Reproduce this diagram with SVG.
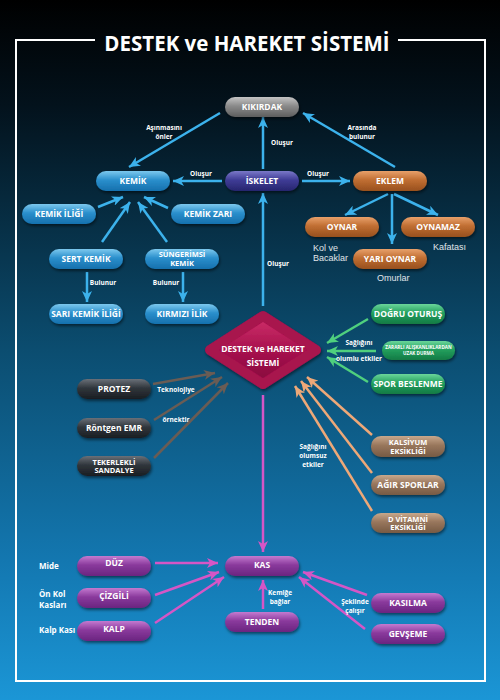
<svg xmlns="http://www.w3.org/2000/svg" width="500" height="700" viewBox="0 0 500 700">
<defs>
<linearGradient id="bg" x1="0" y1="0" x2="0" y2="1">
<stop offset="0" stop-color="#000000"/>
<stop offset="0.15" stop-color="#03121c"/>
<stop offset="0.5" stop-color="#0b4d70"/>
<stop offset="0.8" stop-color="#1377b0"/>
<stop offset="1" stop-color="#1b96d6"/>
</linearGradient>
<linearGradient id="gBlue" x1="0" y1="0" x2="0" y2="1"><stop offset="0" stop-color="#7cc8ee"/><stop offset="0.45" stop-color="#2a8fcc"/><stop offset="1" stop-color="#1670ad"/></linearGradient>
<linearGradient id="gGray" x1="0" y1="0" x2="0" y2="1"><stop offset="0" stop-color="#c4c4c4"/><stop offset="0.45" stop-color="#8a8a8a"/><stop offset="1" stop-color="#5e5e5e"/></linearGradient>
<linearGradient id="gIndigo" x1="0" y1="0" x2="0" y2="1"><stop offset="0" stop-color="#7a78c8"/><stop offset="0.45" stop-color="#3f3c96"/><stop offset="1" stop-color="#27256e"/></linearGradient>
<linearGradient id="gOrange" x1="0" y1="0" x2="0" y2="1"><stop offset="0" stop-color="#e8a06a"/><stop offset="0.45" stop-color="#c06e32"/><stop offset="1" stop-color="#98501e"/></linearGradient>
<linearGradient id="gGreen" x1="0" y1="0" x2="0" y2="1"><stop offset="0" stop-color="#6ad69a"/><stop offset="0.45" stop-color="#23a05e"/><stop offset="1" stop-color="#137a44"/></linearGradient>
<linearGradient id="gTan" x1="0" y1="0" x2="0" y2="1"><stop offset="0" stop-color="#c8a88c"/><stop offset="0.45" stop-color="#98765c"/><stop offset="1" stop-color="#765a44"/></linearGradient>
<linearGradient id="gDark" x1="0" y1="0" x2="0" y2="1"><stop offset="0" stop-color="#6a7078"/><stop offset="0.45" stop-color="#30363c"/><stop offset="1" stop-color="#1a1e22"/></linearGradient>
<linearGradient id="gPurple" x1="0" y1="0" x2="0" y2="1"><stop offset="0" stop-color="#c47ad0"/><stop offset="0.45" stop-color="#8a3a9c"/><stop offset="1" stop-color="#6a2480"/></linearGradient>
<linearGradient id="gCrimson" x1="0" y1="0" x2="0" y2="1"><stop offset="0" stop-color="#d0306a"/><stop offset="0.5" stop-color="#a8124e"/><stop offset="1" stop-color="#840a3c"/></linearGradient>
<filter id="sh" x="-20%" y="-30%" width="140%" height="170%"><feDropShadow dx="1" dy="2" stdDeviation="1.5" flood-color="#000" flood-opacity="0.5"/></filter>
<marker id="aBlue" markerUnits="userSpaceOnUse" markerWidth="12" markerHeight="10" refX="11" refY="5" orient="auto"><path d="M0,0 L11,5 L0,10 L3,5 Z" fill="#3cb2ec"/></marker>
<marker id="aGreen" markerUnits="userSpaceOnUse" markerWidth="12" markerHeight="10" refX="11" refY="5" orient="auto"><path d="M0,0 L11,5 L0,10 L3,5 Z" fill="#4fd07e"/></marker>
<marker id="aTan" markerUnits="userSpaceOnUse" markerWidth="12" markerHeight="10" refX="11" refY="5" orient="auto"><path d="M0,0 L11,5 L0,10 L3,5 Z" fill="#eea878"/></marker>
<marker id="aGray" markerUnits="userSpaceOnUse" markerWidth="12" markerHeight="10" refX="11" refY="5" orient="auto"><path d="M0,0 L11,5 L0,10 L3,5 Z" fill="#6a5c54"/></marker>
<marker id="aPink" markerUnits="userSpaceOnUse" markerWidth="12" markerHeight="10" refX="11" refY="5" orient="auto"><path d="M0,0 L11,5 L0,10 L3,5 Z" fill="#d556c6"/></marker>
</defs>
<style>
.n rect{filter:url(#sh);}
.t{font-family:"Open Sans","Liberation Sans",sans-serif;font-weight:bold;fill:#fff;text-anchor:middle;font-size:8.5px;}
.t2{font-size:7.5px;}
.ts{font-size:4.6px;}
.lb{font-family:"Open Sans","Liberation Sans",sans-serif;font-weight:bold;fill:#fff;font-size:6.5px;text-anchor:middle;}
.lr{font-family:"Liberation Sans","Open Sans",sans-serif;fill:#e0e6ea;font-size:9px;}
.lm{font-family:"Open Sans","Liberation Sans",sans-serif;font-weight:bold;fill:#fff;font-size:8px;}
.cb{stroke:#3cb2ec;stroke-width:2.5;fill:none;marker-end:url(#aBlue);}
.cg{stroke:#4fd07e;stroke-width:2.5;fill:none;marker-end:url(#aGreen);}
.ct{stroke:#eea878;stroke-width:2.5;fill:none;marker-end:url(#aTan);}
.cy{stroke:#6a5c54;stroke-width:2.5;fill:none;marker-end:url(#aGray);}
.cp{stroke:#d556c6;stroke-width:2.5;fill:none;marker-end:url(#aPink);}
</style>
<rect x="0" y="0" width="500" height="700" fill="url(#bg)"/>
<path d="M95,40 H16 V681 H485 V40 H398" fill="none" stroke="#ffffff" stroke-width="2"/>
<text x="247" y="51" font-family="Open Sans, Liberation Sans, sans-serif" font-weight="bold" font-size="20.5" fill="#fff" text-anchor="middle">DESTEK ve HAREKET SİSTEMİ</text>

<g id="connectors">
<line class="cb" x1="263" y1="169" x2="263" y2="117"/>
<line class="cb" x1="222" y1="181" x2="173" y2="181"/>
<line class="cb" x1="302" y1="181" x2="350" y2="181"/>
<line class="cb" x1="395" y1="167" x2="303" y2="113"/>
<line class="cb" x1="220" y1="113" x2="129" y2="167"/>
<line class="cb" x1="98" y1="207" x2="123" y2="197"/>
<line class="cb" x1="168" y1="208" x2="144" y2="197"/>
<line class="cb" x1="102" y1="242" x2="130" y2="202"/>
<line class="cb" x1="167" y1="242" x2="138" y2="202"/>
<line class="cb" x1="87" y1="272" x2="87" y2="302"/>
<line class="cb" x1="183" y1="272" x2="183" y2="302"/>
<line class="cb" x1="388" y1="194" x2="345" y2="215"/>
<line class="cb" x1="392" y1="194" x2="392" y2="244"/>
<line class="cb" x1="394" y1="194" x2="438" y2="215"/>
<line class="cb" x1="263" y1="306" x2="263" y2="193"/>
<line class="cg" x1="368" y1="319" x2="327" y2="343"/>
<line class="cg" x1="376" y1="351" x2="327" y2="351"/>
<line class="cg" x1="368" y1="382" x2="327" y2="357"/>
<line class="ct" x1="372" y1="435" x2="307" y2="377"/>
<line class="ct" x1="372" y1="473" x2="301" y2="381"/>
<line class="ct" x1="372" y1="511" x2="295" y2="386"/>
<line class="cy" x1="153" y1="384" x2="215" y2="373"/>
<line class="cy" x1="154" y1="420" x2="222" y2="377"/>
<line class="cy" x1="154" y1="458" x2="228" y2="383"/>
<line class="cp" x1="263" y1="395" x2="263" y2="552"/>
<line class="cp" x1="155" y1="563" x2="218" y2="563"/>
<line class="cp" x1="155" y1="595" x2="219" y2="572"/>
<line class="cp" x1="155" y1="623" x2="224" y2="577"/>
<line class="cp" x1="367" y1="595" x2="303" y2="572"/>
<line class="cp" x1="365" y1="629" x2="299" y2="577"/>
<line class="cp" x1="263" y1="609" x2="263" y2="580"/>
<g class="lb">
<text x="282" y="145">Oluşur</text>
<text x="201" y="176">Oluşur</text>
<text x="318" y="176">Oluşur</text>
<text x="362" y="130">Arasında<tspan x="362" dy="9">bulunur</tspan></text>
<text x="164" y="130">Aşınmasını<tspan x="164" dy="9">önler</tspan></text>
<text x="103" y="285">Bulunur</text>
<text x="166" y="285">Bulunur</text>
<text x="278" y="266">Oluşur</text>
<text x="359" y="345">Sağlığını</text>
<text x="359" y="361">olumlu etkiler</text>
<text x="313" y="449">Sağlığını<tspan x="313" dy="9">olumsuz</tspan><tspan x="313" dy="9">etkiler</tspan></text>
<text x="176" y="392">Teknolojiye</text>
<text x="176" y="422">örnektir</text>
<text x="280" y="595">Kemiğe<tspan x="280" dy="9">bağlar</tspan></text>
<text x="355" y="604">Şeklinde<tspan x="355" dy="9">çalışır</tspan></text>
</g>
<g>
<text class="lr" x="313" y="251">Kol ve<tspan x="313" dy="10">Bacaklar</tspan></text>
<text class="lr" x="433" y="250">Kafatası</text>
<text class="lr" x="377" y="281">Omurlar</text>
<text class="lm" x="39" y="569">Mide</text>
<text class="lm" x="39" y="597">Ön Kol<tspan x="39" dy="11">Kasları</tspan></text>
<text class="lm" x="39" y="633">Kalp Kası</text>
</g>
</g>

<g id="kikirdak" class="n"><rect x="225" y="97" width="74" height="20" rx="10" fill="url(#gGray)"/><text class="t" x="262" y="110">KIKIRDAK</text></g>
<g id="iskelet" class="n"><rect x="225" y="171" width="74" height="20" rx="10" fill="url(#gIndigo)"/><text class="t" x="262" y="184">İSKELET</text></g>
<g id="kemik" class="n"><rect x="96" y="171" width="74" height="20" rx="10" fill="url(#gBlue)"/><text class="t" x="133" y="184">KEMİK</text></g>
<g id="eklem" class="n"><rect x="353" y="171" width="74" height="20" rx="10" fill="url(#gOrange)"/><text class="t" x="390" y="184">EKLEM</text></g>
<g id="kemik-iligi" class="n"><rect x="22" y="204" width="74" height="20" rx="10" fill="url(#gBlue)"/><text class="t" x="59" y="217">KEMİK İLİĞİ</text></g>
<g id="kemik-zari" class="n"><rect x="171" y="204" width="74" height="20" rx="10" fill="url(#gBlue)"/><text class="t" x="208" y="217">KEMİK ZARI</text></g>
<g id="sert-kemik" class="n"><rect x="49" y="249" width="74" height="20" rx="10" fill="url(#gBlue)"/><text class="t" x="86" y="262">SERT KEMİK</text></g>
<g id="sungerimsi-kemik" class="n"><rect x="145" y="249" width="74" height="20" rx="10" fill="url(#gBlue)"/><text class="t t2" x="182" y="257">SÜNGERİMSİ<tspan x="182" dy="8.5">KEMİK</tspan></text></g>
<g id="sari-kemik-iligi" class="n"><rect x="49" y="304" width="74" height="20" rx="10" fill="url(#gBlue)"/><text class="t" x="86" y="317">SARI KEMİK İLİĞİ</text></g>
<g id="kirmizi-ilik" class="n"><rect x="145" y="304" width="74" height="20" rx="10" fill="url(#gBlue)"/><text class="t" x="182" y="317">KIRMIZI İLİK</text></g>
<g id="oynar" class="n"><rect x="305" y="217" width="74" height="20" rx="10" fill="url(#gOrange)"/><text class="t" x="342" y="230">OYNAR</text></g>
<g id="oynamaz" class="n"><rect x="401" y="217" width="74" height="20" rx="10" fill="url(#gOrange)"/><text class="t" x="438" y="230">OYNAMAZ</text></g>
<g id="yari-oynar" class="n"><rect x="353" y="249" width="74" height="20" rx="10" fill="url(#gOrange)"/><text class="t" x="390" y="262">YARI OYNAR</text></g>

<g id="destek-hareket-sistemi"><path d="M263,316 L316,350 L263,384 L210,350 Z" fill="url(#gCrimson)" stroke="#a8124e" stroke-width="10" stroke-linejoin="round" filter="url(#sh)"/><text class="t" x="263" y="352" font-size="9.5">DESTEK ve HAREKET<tspan x="263" dy="14">SİSTEMİ</tspan></text></g>

<g id="dogru-oturus" class="n"><rect x="371" y="304" width="74" height="20" rx="10" fill="url(#gGreen)"/><text class="t" x="408" y="317">DOĞRU OTURUŞ</text></g>
<g id="zararli-aliskanliklar" class="n"><rect x="382" y="341" width="73" height="19" rx="9.5" fill="url(#gGreen)"/><text class="t ts" x="418.5" y="349">ZARARLI ALIŞKANLIKLARDAN<tspan x="418.5" dy="6">UZAK DURMA</tspan></text></g>
<g id="spor-beslenme" class="n"><rect x="371" y="374" width="74" height="20" rx="10" fill="url(#gGreen)"/><text class="t" x="408" y="387">SPOR BESLENME</text></g>
<g id="kalsiyum-eksikligi" class="n"><rect x="371" y="436" width="74" height="21" rx="10" fill="url(#gTan)"/><text class="t t2" x="408" y="445">KALSİYUM<tspan x="408" dy="8.5">EKSİKLİĞİ</tspan></text></g>
<g id="agir-sporlar" class="n"><rect x="371" y="475" width="74" height="20" rx="10" fill="url(#gTan)"/><text class="t" x="408" y="488">AĞIR SPORLAR</text></g>
<g id="d-vitamini-eksikligi" class="n"><rect x="371" y="513" width="74" height="20" rx="10" fill="url(#gTan)"/><text class="t t2" x="408" y="521.5">D VİTAMNİ<tspan x="408" dy="8.5">EKSİKLİĞİ</tspan></text></g>

<g id="protez" class="n"><rect x="77" y="379" width="74" height="20" rx="10" fill="url(#gDark)"/><text class="t" x="114" y="392">PROTEZ</text></g>
<g id="rontgen-emr" class="n"><rect x="77" y="418" width="74" height="20" rx="10" fill="url(#gDark)"/><text class="t" x="114" y="431">Röntgen EMR</text></g>
<g id="tekerlekli-sandalye" class="n"><rect x="77" y="456" width="74" height="20" rx="10" fill="url(#gDark)"/><text class="t t2" x="114" y="464.5">TEKERLEKLİ<tspan x="114" dy="8.5">SANDALYE</tspan></text></g>

<g id="duz" class="n"><rect x="77" y="556" width="74" height="20" rx="10" fill="url(#gPurple)"/><text class="t" x="114" y="566">DÜZ</text></g>
<g id="cizgili" class="n"><rect x="77" y="588" width="74" height="20" rx="10" fill="url(#gPurple)"/><text class="t" x="114" y="599">ÇİZGİLİ</text></g>
<g id="kalp" class="n"><rect x="77" y="621" width="74" height="20" rx="10" fill="url(#gPurple)"/><text class="t" x="114" y="632">KALP</text></g>
<g id="kas" class="n"><rect x="225" y="556" width="74" height="20" rx="10" fill="url(#gPurple)"/><text class="t" x="262" y="568">KAS</text></g>
<g id="tenden" class="n"><rect x="225" y="612" width="74" height="20" rx="10" fill="url(#gPurple)"/><text class="t" x="262" y="625">TENDEN</text></g>
<g id="kasilma" class="n"><rect x="371" y="593" width="74" height="20" rx="10" fill="url(#gPurple)"/><text class="t" x="408" y="606">KASILMA</text></g>
<g id="gevseme" class="n"><rect x="371" y="624" width="74" height="20" rx="10" fill="url(#gPurple)"/><text class="t" x="408" y="637">GEVŞEME</text></g>
</svg>
